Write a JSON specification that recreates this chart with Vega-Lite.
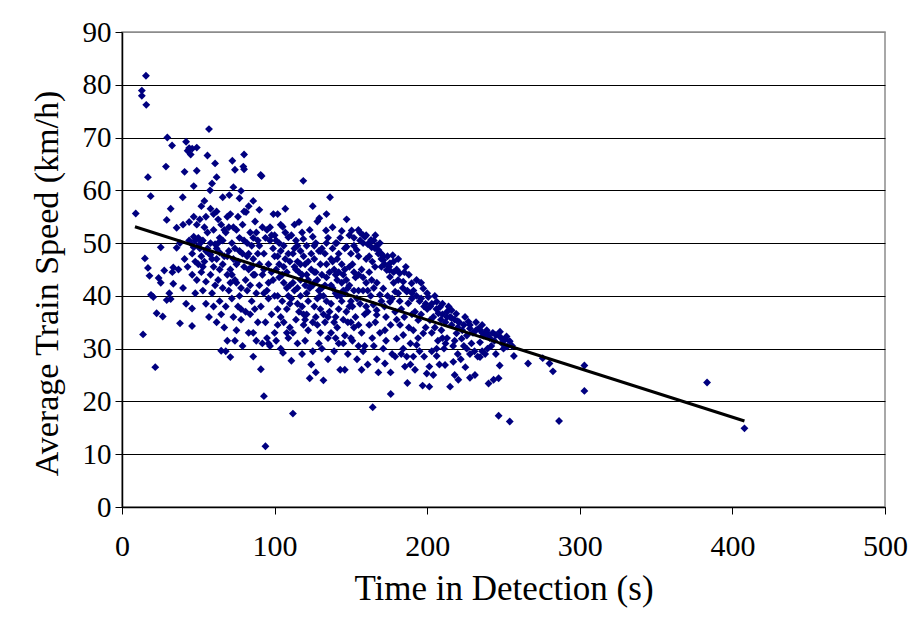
{
  "$schema": "https://vega.github.io/schema/vega-lite/v6.json",
  "width": 763,
  "height": 475,
  "autosize": {"type": "none"},
  "padding": {"left": 122, "top": 32, "right": 23, "bottom": 110},
  "background": "white",
  "datasets": {
    "detections": [
      {"time": 9, "speed": 55.6}, {"time": 13, "speed": 78.9}, {"time": 13, "speed": 77.9}, {"time": 15.9, "speed": 76.2}, {"time": 15.7, "speed": 81.7},
      {"time": 15, "speed": 47.1}, {"time": 17, "speed": 45.3}, {"time": 18, "speed": 43.8}, {"time": 17, "speed": 62.5}, {"time": 18.8, "speed": 58.9},
      {"time": 19, "speed": 40.2}, {"time": 20.5, "speed": 39.8}, {"time": 21.8, "speed": 26.5}, {"time": 13.8, "speed": 32.7}, {"time": 22.7, "speed": 36.7},
      {"time": 24, "speed": 43.4}, {"time": 25.4, "speed": 42.5}, {"time": 25.4, "speed": 49.2}, {"time": 26.7, "speed": 36.1}, {"time": 27.7, "speed": 44.8},
      {"time": 28.8, "speed": 64.5}, {"time": 29.3, "speed": 54.4}, {"time": 29.7, "speed": 70}, {"time": 29.3, "speed": 39.2},
      {"time": 31, "speed": 40.5}, {"time": 31.9, "speed": 39.4}, {"time": 31.9, "speed": 56.5}, {"time": 32.8, "speed": 68.5}, {"time": 33.6, "speed": 45.4},
      {"time": 33, "speed": 44.5}, {"time": 33.6, "speed": 42.3}, {"time": 35.8, "speed": 52.9}, {"time": 35.8, "speed": 49.1}, {"time": 38, "speed": 34.8},
      {"time": 39.8, "speed": 58.7}, {"time": 41, "speed": 63.5}, {"time": 42, "speed": 69.2}, {"time": 43, "speed": 67.5}, {"time": 44, "speed": 68},
      {"time": 45, "speed": 66.8}, {"time": 46, "speed": 67.9}, {"time": 47, "speed": 60.8}, {"time": 45.9, "speed": 34.3}, {"time": 45.9, "speed": 37.6},
      {"time": 49, "speed": 43}, {"time": 49, "speed": 63.7}, {"time": 49, "speed": 68.1}, {"time": 48, "speed": 50.5}, {"time": 47, "speed": 51.2},
      {"time": 44, "speed": 54}, {"time": 41, "speed": 47}, {"time": 43, "speed": 45.5}, {"time": 46, "speed": 48}, {"time": 48, "speed": 46.5},
      {"time": 40, "speed": 41.5}, {"time": 42, "speed": 38.5}, {"time": 37, "speed": 45}, {"time": 38, "speed": 50}, {"time": 47, "speed": 55},
      {"time": 44, "speed": 50.5}, {"time": 49, "speed": 53.5}, {"time": 48, "speed": 40.5}, {"time": 46, "speed": 44}, {"time": 40, "speed": 53.5},
      {"time": 45, "speed": 50}, {"time": 50, "speed": 49.5}, {"time": 52, "speed": 50.2}, {"time": 55, "speed": 48.5}, {"time": 58, "speed": 47.8},
      {"time": 62, "speed": 49}, {"time": 47, "speed": 49.2},
      {"time": 50, "speed": 51}, {"time": 51, "speed": 49}, {"time": 52, "speed": 47.5}, {"time": 53, "speed": 50.5}, {"time": 54, "speed": 58},
      {"time": 55, "speed": 42.7}, {"time": 56, "speed": 66.6}, {"time": 57, "speed": 71.6}, {"time": 57.7, "speed": 60}, {"time": 59, "speed": 61.3},
      {"time": 61, "speed": 65.1}, {"time": 62, "speed": 62.5}, {"time": 52, "speed": 44.5}, {"time": 53, "speed": 45.5}, {"time": 54, "speed": 53},
      {"time": 55, "speed": 55}, {"time": 56, "speed": 49}, {"time": 57, "speed": 48}, {"time": 58, "speed": 50}, {"time": 59, "speed": 47},
      {"time": 60, "speed": 52.5}, {"time": 51, "speed": 54.5}, {"time": 58, "speed": 44}, {"time": 60, "speed": 45.5}, {"time": 55, "speed": 38.5},
      {"time": 57, "speed": 36}, {"time": 59, "speed": 40.5}, {"time": 53, "speed": 41}, {"time": 60, "speed": 55.5}, {"time": 52, "speed": 57},
      {"time": 58, "speed": 56.5}, {"time": 56, "speed": 52}, {"time": 61, "speed": 49.8}, {"time": 54, "speed": 46.5}, {"time": 50, "speed": 46},
      {"time": 60, "speed": 38},
      {"time": 62, "speed": 47}, {"time": 63, "speed": 50}, {"time": 64, "speed": 45}, {"time": 65, "speed": 53.5}, {"time": 66, "speed": 58.7},
      {"time": 63, "speed": 43}, {"time": 64, "speed": 39}, {"time": 66, "speed": 41.5}, {"time": 67, "speed": 47.5}, {"time": 68, "speed": 52},
      {"time": 69, "speed": 55}, {"time": 62, "speed": 56}, {"time": 65, "speed": 36.5}, {"time": 67, "speed": 34}, {"time": 68, "speed": 29.5},
      {"time": 65, "speed": 29.6}, {"time": 69, "speed": 44}, {"time": 70, "speed": 48.5}, {"time": 61, "speed": 42}, {"time": 63, "speed": 54.5},
      {"time": 66, "speed": 50.5}, {"time": 64, "speed": 48.2}, {"time": 68, "speed": 38}, {"time": 70, "speed": 41}, {"time": 62, "speed": 35},
      {"time": 69, "speed": 31.5}, {"time": 66, "speed": 46}, {"time": 70, "speed": 53}, {"time": 69, "speed": 47.5}, {"time": 67, "speed": 52.5},
      {"time": 64, "speed": 51},
      {"time": 70.3, "speed": 59.1}, {"time": 71, "speed": 28.4}, {"time": 72.3, "speed": 65.6}, {"time": 73, "speed": 60.6}, {"time": 74, "speed": 63.9},
      {"time": 77, "speed": 58.5}, {"time": 78, "speed": 59.9}, {"time": 78, "speed": 41.5}, {"time": 71, "speed": 45}, {"time": 72, "speed": 50},
      {"time": 73, "speed": 47}, {"time": 74, "speed": 43}, {"time": 75, "speed": 52.5}, {"time": 76, "speed": 38}, {"time": 77, "speed": 40},
      {"time": 78, "speed": 35.5}, {"time": 79, "speed": 48}, {"time": 80, "speed": 45.5}, {"time": 71, "speed": 55.5}, {"time": 72, "speed": 39.5},
      {"time": 73, "speed": 36}, {"time": 74, "speed": 31.5}, {"time": 75, "speed": 33.5}, {"time": 76, "speed": 46.5}, {"time": 77, "speed": 51},
      {"time": 79, "speed": 53.5}, {"time": 80, "speed": 56}, {"time": 76, "speed": 55}, {"time": 73, "speed": 53}, {"time": 75, "speed": 42.5},
      {"time": 79, "speed": 30.5}, {"time": 80, "speed": 64}, {"time": 79.5, "speed": 64.5}, {"time": 80, "speed": 66.8}, {"time": 74, "speed": 49},
      {"time": 71, "speed": 42.5}, {"time": 78, "speed": 37.5}, {"time": 77, "speed": 48.5}, {"time": 75, "speed": 46}, {"time": 72, "speed": 44},
      {"time": 81.3, "speed": 55.9}, {"time": 86, "speed": 58}, {"time": 87.2, "speed": 54.1}, {"time": 86, "speed": 47}, {"time": 82, "speed": 50},
      {"time": 83, "speed": 45}, {"time": 84, "speed": 42}, {"time": 85, "speed": 39}, {"time": 86, "speed": 33}, {"time": 83, "speed": 33},
      {"time": 88, "speed": 31.5}, {"time": 86, "speed": 28.5}, {"time": 81, "speed": 37}, {"time": 82, "speed": 47.5}, {"time": 84, "speed": 52},
      {"time": 85, "speed": 49.5}, {"time": 87, "speed": 44}, {"time": 88, "speed": 40.5}, {"time": 89, "speed": 50.5}, {"time": 90, "speed": 46},
      {"time": 81, "speed": 43}, {"time": 84, "speed": 36.5}, {"time": 89, "speed": 35}, {"time": 90, "speed": 56.3}, {"time": 88, "speed": 52},
      {"time": 82, "speed": 41}, {"time": 87, "speed": 37.5}, {"time": 85, "speed": 45.5}, {"time": 90, "speed": 42}, {"time": 83, "speed": 57},
      {"time": 89, "speed": 48}, {"time": 86, "speed": 51}, {"time": 90, "speed": 49.5}, {"time": 86, "speed": 44}, {"time": 83, "speed": 48},
      {"time": 80, "speed": 50.5},
      {"time": 90.9, "speed": 62.9}, {"time": 91.5, "speed": 62.7}, {"time": 91, "speed": 26.1}, {"time": 93, "speed": 21}, {"time": 94, "speed": 11.5},
      {"time": 95, "speed": 32}, {"time": 92, "speed": 31}, {"time": 91, "speed": 38}, {"time": 92, "speed": 44}, {"time": 93, "speed": 48},
      {"time": 94, "speed": 51}, {"time": 95, "speed": 41}, {"time": 96, "speed": 46}, {"time": 97, "speed": 50.5}, {"time": 98, "speed": 36.5},
      {"time": 99.2, "speed": 55.5}, {"time": 99, "speed": 43}, {"time": 100, "speed": 47.5}, {"time": 92, "speed": 53}, {"time": 94, "speed": 35},
      {"time": 96, "speed": 39.5}, {"time": 97, "speed": 30.5}, {"time": 98, "speed": 44.5}, {"time": 99, "speed": 49}, {"time": 100, "speed": 33},
      {"time": 93, "speed": 40.5}, {"time": 95, "speed": 52.5}, {"time": 96, "speed": 31}, {"time": 98, "speed": 51.5}, {"time": 97, "speed": 53},
      {"time": 93, "speed": 45}, {"time": 96, "speed": 42.5}, {"time": 100, "speed": 40},
      {"time": 101, "speed": 45}, {"time": 102, "speed": 40}, {"time": 103, "speed": 50}, {"time": 104, "speed": 36}, {"time": 105.3, "speed": 53.1},
      {"time": 105.5, "speed": 29.2}, {"time": 106, "speed": 42.5}, {"time": 107, "speed": 47}, {"time": 108, "speed": 33}, {"time": 109, "speed": 51.1},
      {"time": 110, "speed": 38.5}, {"time": 101, "speed": 31.5}, {"time": 102, "speed": 55.5}, {"time": 103, "speed": 43.5}, {"time": 104, "speed": 48.5},
      {"time": 106, "speed": 35}, {"time": 107, "speed": 52}, {"time": 108, "speed": 44.5}, {"time": 109, "speed": 40}, {"time": 110, "speed": 46.5},
      {"time": 102, "speed": 37.5}, {"time": 104, "speed": 30}, {"time": 106, "speed": 49.5}, {"time": 108, "speed": 41.5}, {"time": 110, "speed": 34},
      {"time": 103, "speed": 46}, {"time": 105, "speed": 39}, {"time": 107, "speed": 56.5}, {"time": 109, "speed": 32}, {"time": 101, "speed": 50.5},
      {"time": 105, "speed": 44}, {"time": 102, "speed": 47.5}, {"time": 106, "speed": 45.5}, {"time": 109, "speed": 48}, {"time": 100, "speed": 51.5},
      {"time": 104, "speed": 53.5}, {"time": 110, "speed": 42}, {"time": 108, "speed": 37.5}, {"time": 102, "speed": 34.5},
      {"time": 111, "speed": 27.7}, {"time": 112, "speed": 17.7}, {"time": 113, "speed": 41}, {"time": 114, "speed": 45}, {"time": 115, "speed": 49.5},
      {"time": 116, "speed": 37}, {"time": 117, "speed": 43}, {"time": 118, "speed": 52}, {"time": 118.8, "speed": 61.8}, {"time": 118.8, "speed": 50.8},
      {"time": 119, "speed": 34.5}, {"time": 120, "speed": 46}, {"time": 111, "speed": 39.5}, {"time": 112, "speed": 48}, {"time": 113, "speed": 53.5},
      {"time": 114, "speed": 35.5}, {"time": 115, "speed": 31}, {"time": 116, "speed": 44.5}, {"time": 117, "speed": 40}, {"time": 118, "speed": 29},
      {"time": 119, "speed": 47.5}, {"time": 120, "speed": 42}, {"time": 112, "speed": 33}, {"time": 114, "speed": 50.5}, {"time": 116, "speed": 54},
      {"time": 118, "speed": 38}, {"time": 120, "speed": 31.5}, {"time": 113, "speed": 45.5}, {"time": 115, "speed": 41.5}, {"time": 117, "speed": 48.5},
      {"time": 119, "speed": 36.5}, {"time": 111, "speed": 51.5}, {"time": 112, "speed": 42.5}, {"time": 115, "speed": 46.5}, {"time": 118, "speed": 44},
      {"time": 113, "speed": 49}, {"time": 117, "speed": 46}, {"time": 115, "speed": 38.5}, {"time": 120, "speed": 35.5},
      {"time": 121, "speed": 44}, {"time": 122, "speed": 39}, {"time": 123, "speed": 24.4}, {"time": 124, "speed": 48}, {"time": 125, "speed": 57},
      {"time": 125, "speed": 51.2}, {"time": 126, "speed": 42.5}, {"time": 127, "speed": 36}, {"time": 128, "speed": 54.1}, {"time": 129.3, "speed": 54.7},
      {"time": 130, "speed": 46}, {"time": 121, "speed": 49.5}, {"time": 122, "speed": 33.5}, {"time": 123, "speed": 41.5}, {"time": 124, "speed": 45},
      {"time": 125, "speed": 29.5}, {"time": 126, "speed": 38}, {"time": 127, "speed": 50}, {"time": 128, "speed": 43}, {"time": 129, "speed": 31},
      {"time": 130, "speed": 40}, {"time": 121, "speed": 36.5}, {"time": 123, "speed": 52.5}, {"time": 124, "speed": 27}, {"time": 126, "speed": 47},
      {"time": 127, "speed": 44.5}, {"time": 128, "speed": 34.5}, {"time": 129, "speed": 48.5}, {"time": 130, "speed": 37.5}, {"time": 122, "speed": 46.5},
      {"time": 125, "speed": 42}, {"time": 127, "speed": 25.5}, {"time": 129, "speed": 41}, {"time": 121, "speed": 40.5}, {"time": 124, "speed": 42},
      {"time": 126, "speed": 44.5}, {"time": 128, "speed": 39.5}, {"time": 122, "speed": 43}, {"time": 126, "speed": 49.5}, {"time": 125, "speed": 35},
      {"time": 130, "speed": 48.5}, {"time": 130, "speed": 33},
      {"time": 131, "speed": 44}, {"time": 132, "speed": 24}, {"time": 133.7, "speed": 52.4}, {"time": 134, "speed": 39}, {"time": 135, "speed": 28},
      {"time": 136.3, "speed": 58.7}, {"time": 137, "speed": 47}, {"time": 138, "speed": 41.5}, {"time": 139, "speed": 35}, {"time": 140, "speed": 50},
      {"time": 131, "speed": 49}, {"time": 132, "speed": 36.5}, {"time": 133, "speed": 42}, {"time": 134, "speed": 46}, {"time": 135, "speed": 32},
      {"time": 136, "speed": 44.5}, {"time": 137, "speed": 38.5}, {"time": 138, "speed": 53}, {"time": 139, "speed": 45}, {"time": 140, "speed": 40.5},
      {"time": 131, "speed": 30}, {"time": 133, "speed": 48}, {"time": 135, "speed": 51}, {"time": 137, "speed": 33}, {"time": 139, "speed": 29.5},
      {"time": 140, "speed": 36}, {"time": 132, "speed": 40}, {"time": 134, "speed": 55.5}, {"time": 136, "speed": 37}, {"time": 138, "speed": 46.5},
      {"time": 140, "speed": 44}, {"time": 133, "speed": 35}, {"time": 131, "speed": 41.5}, {"time": 134, "speed": 43.5}, {"time": 137, "speed": 42},
      {"time": 134, "speed": 50}, {"time": 138, "speed": 49}, {"time": 135, "speed": 36}, {"time": 140, "speed": 32},
      {"time": 140.7, "speed": 50}, {"time": 141, "speed": 43}, {"time": 142, "speed": 37.5}, {"time": 143, "speed": 26}, {"time": 144, "speed": 52.3},
      {"time": 145, "speed": 41}, {"time": 146, "speed": 26}, {"time": 147.2, "speed": 54.5}, {"time": 147.2, "speed": 49.3}, {"time": 148, "speed": 35},
      {"time": 149, "speed": 45.5}, {"time": 150, "speed": 39}, {"time": 141, "speed": 47}, {"time": 142, "speed": 31}, {"time": 143, "speed": 40},
      {"time": 144, "speed": 46}, {"time": 145, "speed": 35.5}, {"time": 146, "speed": 49}, {"time": 147, "speed": 43}, {"time": 148, "speed": 29},
      {"time": 149, "speed": 38}, {"time": 150, "speed": 48}, {"time": 141, "speed": 34}, {"time": 143, "speed": 51}, {"time": 145, "speed": 44},
      {"time": 146, "speed": 32.5}, {"time": 148, "speed": 41.5}, {"time": 149, "speed": 51.5}, {"time": 150, "speed": 35}, {"time": 142, "speed": 44.5},
      {"time": 144, "speed": 39}, {"time": 147, "speed": 37}, {"time": 141, "speed": 40}, {"time": 144, "speed": 42.5}, {"time": 146, "speed": 40.5},
      {"time": 149, "speed": 42}, {"time": 142, "speed": 48}, {"time": 146, "speed": 45}, {"time": 145, "speed": 31}, {"time": 150, "speed": 32},
      {"time": 150.5, "speed": 52.4}, {"time": 151, "speed": 46}, {"time": 152, "speed": 41}, {"time": 153, "speed": 36}, {"time": 153.8, "speed": 48.7},
      {"time": 154.9, "speed": 52.5}, {"time": 155, "speed": 44}, {"time": 156, "speed": 38.5}, {"time": 157, "speed": 33}, {"time": 158, "speed": 29.5},
      {"time": 159.2, "speed": 51.2}, {"time": 160, "speed": 47}, {"time": 151, "speed": 31.5}, {"time": 152, "speed": 49.5}, {"time": 153, "speed": 43.5},
      {"time": 154, "speed": 39.5}, {"time": 155, "speed": 34.5}, {"time": 156, "speed": 50.5}, {"time": 157, "speed": 45}, {"time": 158, "speed": 41},
      {"time": 159, "speed": 36.5}, {"time": 160, "speed": 42.5}, {"time": 151, "speed": 38}, {"time": 154, "speed": 28}, {"time": 157, "speed": 26},
      {"time": 159, "speed": 30.5}, {"time": 160, "speed": 38}, {"time": 152, "speed": 34}, {"time": 155, "speed": 47.5}, {"time": 158, "speed": 51.5},
      {"time": 152, "speed": 51}, {"time": 156, "speed": 52}, {"time": 158, "speed": 50}, {"time": 160, "speed": 51.5}, {"time": 152, "speed": 44.5},
      {"time": 155, "speed": 41}, {"time": 158, "speed": 43.5}, {"time": 155, "speed": 30.5},
      {"time": 161, "speed": 49.8}, {"time": 162, "speed": 44.5}, {"time": 163, "speed": 40}, {"time": 163.2, "speed": 50.6}, {"time": 163.6, "speed": 49.2},
      {"time": 163.6, "speed": 43}, {"time": 164, "speed": 32}, {"time": 164.3, "speed": 18.9}, {"time": 164.7, "speed": 38.3}, {"time": 165.8, "speed": 49},
      {"time": 165.8, "speed": 45.5}, {"time": 166, "speed": 35}, {"time": 166.9, "speed": 36.4}, {"time": 166.9, "speed": 37.3}, {"time": 167, "speed": 28},
      {"time": 168, "speed": 48.7}, {"time": 168, "speed": 48}, {"time": 169, "speed": 40.2}, {"time": 170, "speed": 45.5}, {"time": 161, "speed": 41},
      {"time": 162, "speed": 34.5}, {"time": 165, "speed": 30.5}, {"time": 167, "speed": 42.5}, {"time": 169, "speed": 33}, {"time": 170, "speed": 39},
      {"time": 161, "speed": 27}, {"time": 168, "speed": 25.5}, {"time": 162, "speed": 47.5}, {"time": 164, "speed": 46.5}, {"time": 170, "speed": 48},
      {"time": 166, "speed": 51.5}, {"time": 169, "speed": 50}, {"time": 165, "speed": 41.5}, {"time": 161, "speed": 37}, {"time": 162, "speed": 50},
      {"time": 165, "speed": 50.5}, {"time": 167, "speed": 49.5}, {"time": 170, "speed": 47},
      {"time": 171.2, "speed": 47.5}, {"time": 171.3, "speed": 46.8}, {"time": 171.2, "speed": 41.4}, {"time": 171.2, "speed": 30}, {"time": 172.3, "speed": 33.5},
      {"time": 172.3, "speed": 27.2}, {"time": 173.5, "speed": 44.9}, {"time": 175.2, "speed": 44.9}, {"time": 175.6, "speed": 46.2}, {"time": 175.6, "speed": 43.6},
      {"time": 175.6, "speed": 38.9}, {"time": 176.1, "speed": 21.4}, {"time": 177.4, "speed": 47.7}, {"time": 179, "speed": 40.8}, {"time": 180, "speed": 31.9},
      {"time": 173, "speed": 36}, {"time": 174, "speed": 40}, {"time": 176, "speed": 34.5}, {"time": 177, "speed": 29}, {"time": 178, "speed": 42.5},
      {"time": 179, "speed": 37}, {"time": 180, "speed": 45}, {"time": 174, "speed": 47.5}, {"time": 178, "speed": 46.5}, {"time": 172, "speed": 38},
      {"time": 180, "speed": 35.5}, {"time": 176, "speed": 25.5}, {"time": 179, "speed": 28.5}, {"time": 173, "speed": 31.5}, {"time": 177, "speed": 39.5},
      {"time": 172, "speed": 46}, {"time": 175, "speed": 45.5}, {"time": 178, "speed": 44.5},
      {"time": 182, "speed": 44.3}, {"time": 182.2, "speed": 34.5}, {"time": 184.3, "speed": 42.7}, {"time": 184.3, "speed": 30}, {"time": 184.3, "speed": 32.6},
      {"time": 185.4, "speed": 26.6}, {"time": 186.6, "speed": 40.8}, {"time": 186.6, "speed": 28.5}, {"time": 187.6, "speed": 38.6}, {"time": 189.8, "speed": 42.4},
      {"time": 181, "speed": 40.5}, {"time": 183, "speed": 37.5}, {"time": 185, "speed": 36}, {"time": 188, "speed": 34}, {"time": 189, "speed": 31},
      {"time": 190, "speed": 39.5}, {"time": 181, "speed": 47}, {"time": 183, "speed": 29}, {"time": 186, "speed": 45.5}, {"time": 188, "speed": 44},
      {"time": 190, "speed": 36.5}, {"time": 187, "speed": 23.5}, {"time": 182, "speed": 39}, {"time": 185, "speed": 44.5}, {"time": 189, "speed": 27},
      {"time": 181, "speed": 43}, {"time": 184, "speed": 41.5}, {"time": 187, "speed": 41}, {"time": 190, "speed": 40.5},
      {"time": 190.9, "speed": 28.5}, {"time": 190.9, "speed": 33.5}, {"time": 192, "speed": 37}, {"time": 193.1, "speed": 30.7}, {"time": 194.1, "speed": 35.4},
      {"time": 197.4, "speed": 41.4}, {"time": 197.4, "speed": 32.9}, {"time": 199.7, "speed": 25.3}, {"time": 191, "speed": 41}, {"time": 193, "speed": 43},
      {"time": 195, "speed": 39}, {"time": 196, "speed": 36.5}, {"time": 198, "speed": 38}, {"time": 199, "speed": 34}, {"time": 200, "speed": 40.5},
      {"time": 192, "speed": 26}, {"time": 195, "speed": 29.5}, {"time": 196, "speed": 42.5}, {"time": 198, "speed": 28.5}, {"time": 200, "speed": 37.5},
      {"time": 194, "speed": 32}, {"time": 197, "speed": 23}, {"time": 193, "speed": 40}, {"time": 196, "speed": 39.5}, {"time": 199, "speed": 38.5},
      {"time": 200.7, "speed": 39.8}, {"time": 201.4, "speed": 26.6}, {"time": 201.4, "speed": 22.8}, {"time": 201.8, "speed": 35.4}, {"time": 206.2, "speed": 38.9},
      {"time": 206.2, "speed": 30}, {"time": 206.2, "speed": 28.6}, {"time": 207.3, "speed": 36.7}, {"time": 208.4, "speed": 37.9}, {"time": 209.3, "speed": 33.5},
      {"time": 202, "speed": 38}, {"time": 203, "speed": 33}, {"time": 204, "speed": 36}, {"time": 205, "speed": 40}, {"time": 207, "speed": 31.5},
      {"time": 209, "speed": 35.5}, {"time": 210, "speed": 38.5}, {"time": 203, "speed": 29.5}, {"time": 204, "speed": 25}, {"time": 208, "speed": 27},
      {"time": 210, "speed": 32}, {"time": 205, "speed": 34}, {"time": 203, "speed": 38.5}, {"time": 206, "speed": 37.5}, {"time": 210, "speed": 36.5},
      {"time": 211.7, "speed": 26.9}, {"time": 215, "speed": 36}, {"time": 215, "speed": 22.8}, {"time": 216, "speed": 37.3}, {"time": 216, "speed": 34.5},
      {"time": 217.1, "speed": 27.5}, {"time": 219, "speed": 36.6}, {"time": 219.2, "speed": 32.9}, {"time": 212, "speed": 35}, {"time": 213, "speed": 32},
      {"time": 214, "speed": 38}, {"time": 217, "speed": 30.5}, {"time": 218, "speed": 35.5}, {"time": 220, "speed": 34}, {"time": 211, "speed": 30},
      {"time": 213, "speed": 37}, {"time": 220, "speed": 29}, {"time": 218, "speed": 25}, {"time": 213, "speed": 36}, {"time": 216, "speed": 35.8},
      {"time": 212, "speed": 31}, {"time": 218, "speed": 31.5},
      {"time": 220.4, "speed": 24.1}, {"time": 222.6, "speed": 31.9}, {"time": 224.8, "speed": 36}, {"time": 225.9, "speed": 30}, {"time": 227, "speed": 35.1},
      {"time": 231.3, "speed": 25}, {"time": 233.1, "speed": 28.5}, {"time": 233.5, "speed": 33.8}, {"time": 221, "speed": 35}, {"time": 223, "speed": 33.5},
      {"time": 226, "speed": 32.5}, {"time": 228, "speed": 34.5}, {"time": 229, "speed": 31}, {"time": 230, "speed": 33}, {"time": 232, "speed": 35},
      {"time": 234.6, "speed": 33.6}, {"time": 234.6, "speed": 31.2}, {"time": 234.6, "speed": 28.4}, {"time": 222, "speed": 28}, {"time": 225, "speed": 26.5},
      {"time": 231, "speed": 29.5}, {"time": 228, "speed": 24.5}, {"time": 220, "speed": 35.2}, {"time": 224, "speed": 34.5}, {"time": 228, "speed": 33.8},
      {"time": 232, "speed": 33.5}, {"time": 224, "speed": 30.5}, {"time": 228, "speed": 29},
      {"time": 239, "speed": 33.5}, {"time": 239, "speed": 33.1}, {"time": 239.5, "speed": 30}, {"time": 240.2, "speed": 23.4}, {"time": 243.5, "speed": 24.1},
      {"time": 246.8, "speed": 24.4}, {"time": 246.8, "speed": 17.3}, {"time": 247.5, "speed": 26.8}, {"time": 247.7, "speed": 33.2}, {"time": 247.9, "speed": 32.2},
      {"time": 237, "speed": 32.5}, {"time": 238, "speed": 29}, {"time": 241, "speed": 32}, {"time": 242, "speed": 30.5}, {"time": 244, "speed": 31.5},
      {"time": 245, "speed": 29}, {"time": 249, "speed": 31}, {"time": 250, "speed": 30}, {"time": 243, "speed": 33}, {"time": 236, "speed": 34.5},
      {"time": 236, "speed": 33}, {"time": 240, "speed": 32.5}, {"time": 245, "speed": 32.6}, {"time": 250, "speed": 31.5}, {"time": 236, "speed": 29.5},
      {"time": 251.3, "speed": 31.8}, {"time": 252, "speed": 32.3}, {"time": 252.4, "speed": 30.4}, {"time": 254.1, "speed": 31.4}, {"time": 254.1, "speed": 16.2},
      {"time": 255.7, "speed": 30.5}, {"time": 256.8, "speed": 28.6}, {"time": 266.1, "speed": 27.2}, {"time": 275.7, "speed": 28.2}, {"time": 280.1, "speed": 27.2},
      {"time": 282.4, "speed": 25.7}, {"time": 286.4, "speed": 16.3}, {"time": 303, "speed": 26.8}, {"time": 303, "speed": 22}, {"time": 383.4, "speed": 23.6},
      {"time": 407.9, "speed": 14.9}
    ],
    "trend": [
      {"time": 8.5, "speed": 53.1},
      {"time": 407.9, "speed": 16.3}
    ]
  },
  "config": {
    "view": {"stroke": "#8c8c8c", "strokeWidth": 1.5},
    "axis": {
      "labelFont": "Liberation Serif",
      "titleFont": "Liberation Serif",
      "labelColor": "black",
      "titleColor": "black",
      "titleFontWeight": "normal",
      "domainColor": "black",
      "domainWidth": 1.5,
      "tickColor": "black",
      "tickWidth": 1,
      "tickSize": 7,
      "gridColor": "black",
      "gridOpacity": 1,
      "gridWidth": 1
    }
  },
  "layer": [
    {
      "data": {"name": "detections"},
      "mark": {"type": "point", "shape": "diamond", "filled": true, "size": 62, "color": "#000080", "opacity": 1},
      "encoding": {
        "x": {
          "field": "time",
          "type": "quantitative",
          "scale": {"domain": [0, 500], "nice": false, "zero": true},
          "axis": {
            "title": "Time in Detection (s)",
            "values": [0, 100, 200, 300, 400, 500],
            "grid": false,
            "labelFontSize": 30,
            "labelPadding": 17,
            "labelFlush": false,
            "titleFontSize": 35,
            "titlePadding": 10
          }
        },
        "y": {
          "field": "speed",
          "type": "quantitative",
          "scale": {"domain": [0, 90], "nice": false, "zero": true},
          "axis": {
            "title": "Average Train Speed (km/h)",
            "values": [0, 10, 20, 30, 40, 50, 60, 70, 80, 90],
            "grid": true,
            "gridColor": {"condition": {"test": "datum.value === 90", "value": "#8c8c8c"}, "value": "black"},
            "labelFontSize": 29,
            "labelPadding": 4,
            "labelFlush": false,
            "titleFontSize": 34,
            "titlePadding": 18,
            "titleY": 251
          }
        }
      }
    },
    {
      "data": {"name": "trend"},
      "mark": {"type": "line", "color": "black", "strokeWidth": 3},
      "encoding": {
        "x": {"field": "time", "type": "quantitative"},
        "y": {"field": "speed", "type": "quantitative"}
      }
    }
  ]
}
